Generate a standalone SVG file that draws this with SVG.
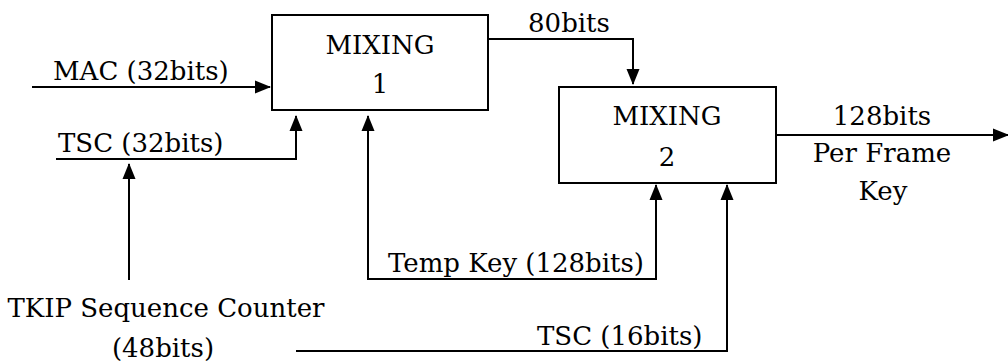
<svg xmlns="http://www.w3.org/2000/svg" width="1008" height="364" viewBox="0 0 1008 364">
<style>
text{font-family:'DejaVu Serif','Liberation Serif',serif;font-size:26px;fill:#000}
.c{text-anchor:middle}
.box{fill:#fff;stroke:#000;stroke-width:2}
.ln{fill:none;stroke:#000;stroke-width:2}
</style>
<defs>
<marker id="ah" markerUnits="userSpaceOnUse" markerWidth="16" markerHeight="14" refX="15" refY="7" orient="auto-start-reverse" viewBox="0 0 16 14">
<path d="M0,0.5 L16,7 L0,13.5 Z" fill="#000"/>
</marker>
</defs>
<rect width="1008" height="364" fill="#fff"/>
<g id="connectors">
<path class="ln" d="M32,87 H270" marker-end="url(#ah)"/>
<path class="ln" d="M56,159 H296 V116" marker-end="url(#ah)"/>
<path class="ln" d="M129,280 V164" marker-end="url(#ah)"/>
<path class="ln" d="M488,39 H633 V84" marker-end="url(#ah)"/>
<path class="ln" d="M368,116 V279 H656 V185" marker-start="url(#ah)" marker-end="url(#ah)"/>
<path class="ln" d="M296,351 H727 V185" marker-end="url(#ah)"/>
<path class="ln" d="M776,135 H1008" marker-end="url(#ah)"/>
</g>
<g id="mixing1">
<rect class="box" x="272" y="15" width="216" height="95"/>
<text class="c" x="380" y="54">MIXING</text>
<text class="c" x="380" y="93">1</text>
</g>
<g id="mixing2">
<rect class="box" x="559" y="87" width="217" height="96"/>
<text class="c" x="667" y="125">MIXING</text>
<text class="c" x="667" y="166">2</text>
</g>
<g id="labels">
<text x="53" y="80">MAC (32bits)</text>
<text x="58" y="152">TSC (32bits)</text>
<text class="c" x="569" y="32">80bits</text>
<text class="c" x="882" y="125">128bits</text>
<text class="c" x="882" y="162">Per Frame</text>
<text class="c" x="883" y="200">Key</text>
<text x="388" y="272">Temp Key (128bits)</text>
<text x="537" y="345">TSC (16bits)</text>
</g>
<g id="tkip">
<text class="c" x="166" y="317">TKIP Sequence Counter</text>
<text class="c" x="163" y="357">(48bits)</text>
</g>
</svg>
